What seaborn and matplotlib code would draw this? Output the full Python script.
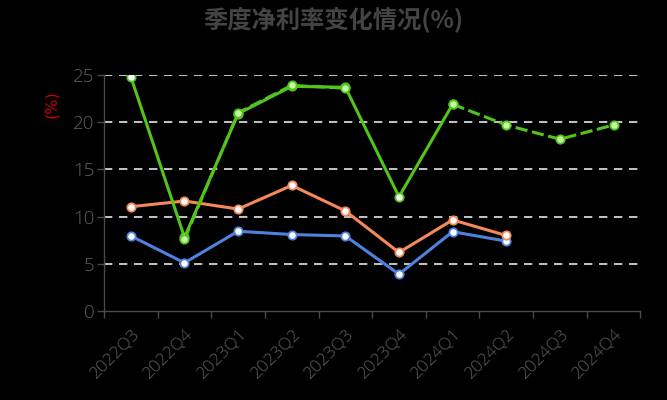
import numpy as np
import pandas as pd
import seaborn as sns
import matplotlib.pyplot as plt
from matplotlib.ticker import FixedLocator

# data
quarters = ["2022Q3", "2022Q4", "2023Q1", "2023Q2", "2023Q3",
            "2023Q4", "2024Q1", "2024Q2", "2024Q3", "2024Q4"]
green_actual = [24.8, 7.8, 20.9, 23.8, 23.7, 12.1, 21.9, None, None, None]
green_forecast = [None, 7.6, 21.0, 23.9, 23.6, None, 21.9, 19.7, 18.2, 19.7]
orange = [11.05, 11.65, 10.8, 13.3, 10.6, 6.2, 9.65, 8.0, None, None]
blue = [7.95, 5.1, 8.45, 8.1, 7.95, 3.9, 8.4, 7.4, None, None]

GREEN = "#52c41a"
ORANGE = "#f5895a"
BLUE = "#4f82e0"
GRAY = "#4a4a4a"
LABEL_GRAY = "#5e5e5e"

sns.set_style("dark", {"axes.facecolor": "black", "figure.facecolor": "black"})
plt.rcParams['font.family'] = ['Open Sans', 'Noto Sans CJK SC', 'DejaVu Sans']

fig = plt.figure(figsize=(6.67, 4), dpi=100)
ax = fig.add_axes([0.156, 0.2225, 0.804, 0.59])

x = np.arange(len(quarters))


def draw(values, color, face, ls="-"):
    df = pd.DataFrame({"x": x, "y": pd.array(values, dtype="Float64")}).astype(float)
    # split into runs so that gaps stay gaps
    df["run"] = df["y"].isna().cumsum()
    df = df.dropna()
    for _, part in df.groupby("run"):
        sns.lineplot(data=part, x="x", y="y", ax=ax, color=color, linewidth=2.2,
                     linestyle=ls, marker="o", markersize=6,
                     markerfacecolor=face, markeredgecolor=color,
                     markeredgewidth=1.3, zorder=3)


draw(blue, BLUE, "white")
draw(orange, ORANGE, "white")
draw(green_actual, GREEN, "white")
draw(green_forecast, GREEN, "#c6f5a6", ls=(0, (4, 1.5)))

ax.set_xlim(-0.5, len(quarters) - 0.5)
ax.set_ylim(0, 25)
ax.set_yticks([0, 5, 10, 15, 20, 25])
ax.set_xticks(x)
ax.set_xticklabels(quarters, rotation=45, ha="right", rotation_mode="anchor",
                   color=LABEL_GRAY, fontsize=12.5, fontweight="light")
ax.xaxis.set_minor_locator(FixedLocator(np.arange(-0.5, len(quarters), 1.0)))
ax.tick_params(axis="x", which="major", length=0, pad=11)
ax.tick_params(axis="x", which="minor", length=5, color=GRAY, width=1, bottom=True)
ax.tick_params(axis="y", length=5, color=GRAY, width=1, left=True,
               labelsize=13.5, labelcolor=LABEL_GRAY, pad=2)
for lab in ax.get_yticklabels():
    lab.set_fontweight("light")

for v in [5, 10, 15, 20, 25]:
    ax.axhline(v, color="#e6e6e6", linewidth=1.2, linestyle=(0, (5, 4)), zorder=1)
ax.grid(False)

for side in ["top", "right"]:
    ax.spines[side].set_visible(False)
for side in ["left", "bottom"]:
    ax.spines[side].set_visible(True)
    ax.spines[side].set_color(GRAY)
    ax.spines[side].set_linewidth(1)

ax.set_xlabel("")
ax.set_ylabel("")
fig.text(0.078, 0.74, "(%)", color="#cc0000", fontsize=11.5, rotation=90,
         ha="center", va="center", family=['DejaVu Sans'])
fig.text(0.5, 0.95, "季度净利率变化情况(%)", color="#444444", fontsize=17.5,
         fontweight="bold", ha="center", va="center",
         family=['Noto Sans CJK SC', 'DejaVu Sans'])

fig.savefig("out.png", dpi=100, facecolor="black")
